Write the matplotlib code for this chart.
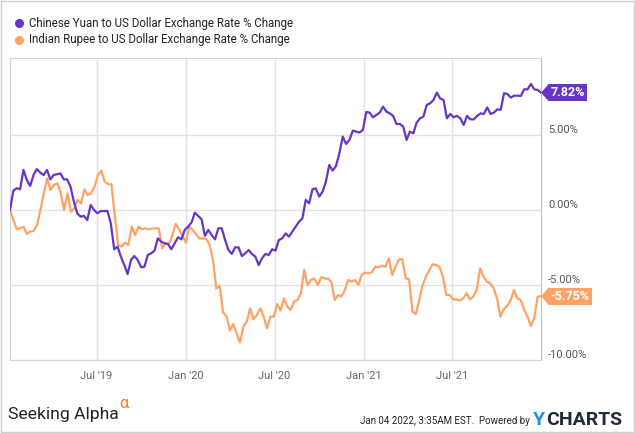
import matplotlib
matplotlib.use("Agg")
import matplotlib.pyplot as plt
import matplotlib.dates as mdates
import matplotlib.transforms as mtransforms
from matplotlib.patches import Polygon, Rectangle
from matplotlib.lines import Line2D
import pandas as pd

plt.rcParams["font.family"] = ["Roboto", "DejaVu Sans"]

# data (% change since start of window)
start_date = "2019-01-04"
end_date = "2021-12-31"

yuan_label = "Chinese Yuan to US Dollar Exchange Rate % Change"
rupee_label = "Indian Rupee to US Dollar Exchange Rate % Change"

yuan_change = [
    0.0, 1.29, 1.45, 1.38, 2.67, 2.0, 1.6, 2.33, 2.73, 2.49,
    2.33, 2.67, 2.04, 2.33, 2.38, 2.44, 2.04, 2.04, 1.56, 0.56,
    -0.22, -0.44, -0.4, -0.67, 0.33, 0.0, -0.22, -0.07, -0.07, -0.07,
    -0.89, -2.62, -2.44, -3.11, -3.67, -4.27, -3.33, -3.07, -3.33, -3.82,
    -3.78, -3.0, -2.89, -2.71, -1.89, -2.11, -2.22, -2.27, -2.62, -2.22,
    -1.82, -1.96, -1.33, -1.11, -0.84, -0.18, -0.4, -0.62, -1.73, -1.33,
    -1.67, -1.96, -1.22, -1.22, -2.0, -2.67, -2.93, -2.49, -2.49, -3.07,
    -2.89, -2.67, -2.93, -3.11, -3.67, -3.22, -2.93, -3.0, -2.62, -2.71,
    -2.0, -1.89, -1.56, -1.78, -1.44, -1.11, -0.78, -0.56, 0.67, 0.44,
    1.38, 1.44, 0.89, 1.22, 1.89, 3.0, 2.62, 2.93, 3.78, 4.89,
    4.4, 4.67, 5.29, 5.22, 5.16, 5.33, 6.53, 6.49, 6.18, 6.33,
    6.49, 6.89, 6.56, 6.44, 6.27, 5.73, 5.73, 5.56, 4.67, 5.22,
    5.11, 5.82, 6.11, 6.22, 7.0, 7.11, 7.33, 7.82, 7.44, 7.33,
    6.11, 6.4, 6.18, 6.27, 6.11, 5.67, 6.27, 6.04, 6.04, 6.27,
    6.44, 6.4, 6.84, 6.4, 6.49, 6.71, 6.67, 7.78, 7.73, 7.49,
    7.62, 7.62, 7.6, 8.04, 8.04, 8.4, 8.04, 8.0, 7.82,
]

rupee_change = [
    0.0, -0.67, -1.29, -1.22, -1.11, -1.6, -1.44, -1.4, -1.0, 0.0,
    1.11, 2.11, 1.33, 1.67, 1.78, 1.11, 0.0, 1.11, -0.11, 0.11,
    0.67, 0.44, 1.38, 1.0, 1.11, 1.56, 2.33, 2.62, 1.89, 1.73,
    1.71, -0.44, -2.33, -2.44, -2.18, -2.33, -1.11, -1.67, -1.11, -1.29,
    -1.22, -1.29, -1.24, -1.22, -1.22, -2.56, -2.22, -2.27, -1.67, -0.93,
    -1.29, -1.73, -2.18, -1.11, -1.33, -1.6, -1.91, -1.89, -1.93, -2.33,
    -3.33, -5.22, -5.07, -6.84, -7.07, -8.04, -7.6, -8.22, -8.84, -7.78,
    -7.44, -6.56, -7.29, -7.0, -6.56, -7.11, -7.89, -7.11, -7.11, -6.27,
    -6.7, -5.89, -6.44, -6.67, -6.11, -6.0, -5.56, -4.0, -5.0, -4.67,
    -4.56, -5.0, -4.49, -4.56, -4.58, -4.78, -6.0, -5.67, -5.78, -5.33,
    -4.67, -4.78, -4.67, -5.0, -4.33, -4.18, -4.22, -4.16, -3.78, -3.82,
    -3.71, -3.78, -3.22, -4.33, -3.78, -3.29, -3.29, -4.56, -4.62, -6.78,
    -6.93, -6.0, -5.0, -4.44, -4.0, -3.62, -3.67, -3.82, -4.44, -5.67,
    -5.67, -5.96, -5.96, -6.04, -5.89, -5.56, -5.96, -5.78, -5.33, -3.89,
    -4.44, -4.78, -4.89, -5.22, -5.89, -7.11, -6.62, -6.4, -6.04, -5.33,
    -5.89, -6.0, -6.62, -7.11, -7.73, -7.22, -5.78, -5.75,
]

y_ticks = [-10, -5, 0, 5]
x_ticks = ["2019-07-01", "2020-01-01", "2020-07-01", "2021-01-01", "2021-07-01"]
x_tick_labels = ["Jul '19", "Jan '20", "Jul '20", "Jan '21", "Jul '21"]

purple = "#6536c8"
orange = "#ffa264"
W, H = 635, 433

yuan_dates = pd.date_range(start_date, end_date, periods=len(yuan_change))
rupee_dates = pd.date_range(start_date, end_date, periods=len(rupee_change))


def draw_tag(ax, x, y, color):
    # value flag with a left pointing tip at the last point
    fig = ax.figure
    trans = fig.dpi_scale_trans + mtransforms.ScaledTranslation(
        mdates.date2num(x), y, ax.transData)
    h, w = 0.09, 0.08
    tri = Polygon([(0, 0), (w, h), (w, -h)], closed=True,
                  transform=trans, fc=color, ec="none", clip_on=False, zorder=6)
    ax.add_patch(tri)
    fs, pad = 9, 0.16
    ax.annotate(f"{y:.2f}%", xy=(x, y), xytext=(w * 72 + pad * fs - 0.3, 0),
                textcoords="offset points", ha="left", va="center", fontsize=fs,
                fontweight="bold", color="white",
                bbox=dict(boxstyle=f"square,pad={pad}", fc=color, ec="none"),
                annotation_clip=False, zorder=7)


fig = plt.figure(figsize=(W / 100, H / 100), dpi=100)
ax = fig.add_axes([10 / W, 1 - 360 / H, 531 / W, 302 / H])

ax.plot(yuan_dates, yuan_change, color=purple, lw=1.6, zorder=4)
ax.plot(rupee_dates, rupee_change, color=orange, lw=1.6, zorder=3)

ax.set_xlim(pd.Timestamp(start_date), pd.Timestamp(end_date))
ax.set_ylim(-10, 10.13)

ax.set_xticks(pd.to_datetime(x_ticks))
ax.set_xticklabels(x_tick_labels)
ax.set_yticks(y_ticks)
ax.set_yticklabels([])
ax.tick_params(axis="x", length=0, pad=8, labelsize=8, labelcolor="#666666")
ax.tick_params(axis="y", length=0)
ax.grid(True, color="#e2e2e2", lw=1)
ax.set_axisbelow(True)
for side in ["left", "top", "bottom"]:
    ax.spines[side].set_color("#d6d6d6")
ax.spines["right"].set_color("#bdbdbd")

ylab_trans = mtransforms.offset_copy(ax.get_yaxis_transform(), fig=fig, x=5, y=0, units="points")
for v in y_ticks:
    ax.text(1.0, v, f"{v:.2f}%", transform=ylab_trans, ha="left", va="bottom",
            fontsize=8, color="#555555")

draw_tag(ax, yuan_dates[-1], yuan_change[-1], purple)
draw_tag(ax, rupee_dates[-1], rupee_change[-1], orange)

# legend
for i, (lab, c) in enumerate([(yuan_label, purple), (rupee_label, orange)]):
    yy = 1 - (23 + 17 * i) / H
    fig.add_artist(Line2D([19 / W], [yy], transform=fig.transFigure, marker="o",
                          ms=5.5, color=c, ls="none"))
    fig.text(29 / W, yy, lab, ha="left", va="center", fontsize=8.3, color="#222222")

# footer
fig.text(8 / W, 1 - 415 / H, "Seeking Alpha", ha="left", va="center",
         fontsize=12.6, color="#222222")
fig.text(119 / W, 1 - 404 / H, "α", ha="left", va="center", fontsize=12, color="#f57f17")
fig.text(530 / W, 1 - 421 / H, "Jan 04 2022, 3:35AM EST.  Powered by", ha="right",
         va="center", fontsize=7, color="#222222")
fig.text(533 / W, 1 - 420 / H, "Y", ha="left", va="center", fontsize=14,
         fontweight="bold", color="#1e90e8")
fig.text(546 / W, 1 - 420 / H, "CHARTS", ha="left", va="center", fontsize=14,
         fontweight="bold", color="#1d2b3a")

fig.add_artist(Rectangle((1 / W, 1 / H), 633 / W, 431 / H, transform=fig.transFigure,
                         fill=False, ec="#cfcfcf", lw=1))

fig.savefig("out.png", dpi=100)
